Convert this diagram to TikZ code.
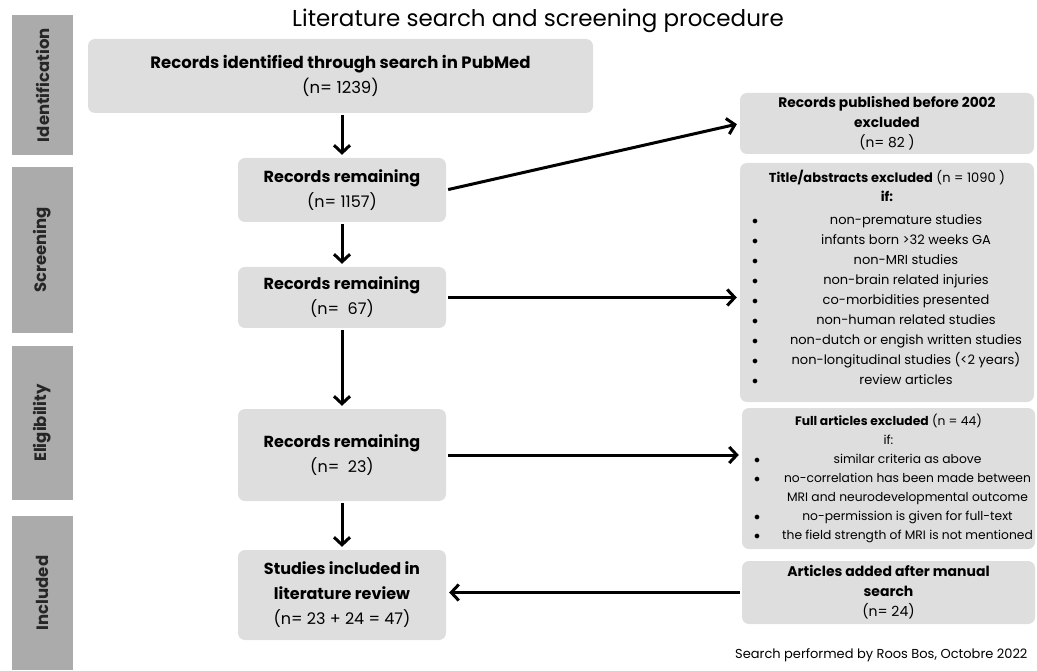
\documentclass[tikz,border=0pt]{standalone}
\usepackage{fontspec}
\setmainfont{Poppins}
\usepackage{array}
\usetikzlibrary{arrows.meta}
\definecolor{boxgray}{RGB}{222,222,222}
\definecolor{phasegray}{RGB}{171,171,171}
\newcommand{\fsz}[2]{\fontsize{#1}{#2}\selectfont}
\newcommand{\bul}{\hspace{12pt}$\bullet$}
\begin{document}
\begin{tikzpicture}[x=1pt,y=-1pt,
  phase/.style={fill=phasegray,rotate=90,minimum height=61pt,inner sep=0pt,
    font=\fsz{16.5}{18}\bfseries,text=black!85},
  box/.style={fill=boxgray,rounded corners=7pt,align=center,inner sep=0pt},
  rec/.style={box,minimum width=208pt,font=\fsz{16}{25}},
  excl/.style={box,minimum width=294pt,font=\fsz{13}{20}},
  arr/.style={line width=3pt,-{Straight Barb[length=7.5pt,width=16pt]},
    shorten <=2pt,shorten >=3pt}]
\useasboundingbox (0,0) rectangle (1037,671);

% Title.
\node[font=\fsz{23}{26}] (title) at (538,21) {Literature search and screening procedure};

% Phase bars on the left.
\node[phase,minimum width=140pt] (ident) at (42.5,85) {Identification};
\node[phase,minimum width=166pt] (screen) at (42.5,250) {Screening};
\node[phase,minimum width=154pt] (elig) at (42.5,423) {Eligibility};
\node[phase,minimum width=154pt] (incl) at (42.5,593) {Included};

% Main column.
\node[rec,font=\fsz{16.5}{25},minimum width=505pt,minimum height=74pt] (pubmed) at (340.5,76)
 {\textbf{Records identified through search in PubMed}\\(n= 1239)};
\node[rec,minimum height=64pt] (rem1) at (342,190) {\textbf{Records remaining}\\(n= 1157)};
\node[rec,minimum height=61pt] (rem2) at (342,297.5) {\textbf{Records remaining}\\(n=\ \ 67)};
\node[rec,minimum height=92pt] (rem3) at (342,455) {\textbf{Records remaining}\\(n=\ \ 23)};
\node[rec,minimum height=90pt] (final) at (342,595)
 {\textbf{Studies included in}\\\textbf{literature review}\\(n= 23 + 24 = 47)};

% Exclusion column.
\node[excl,font=\fsz{13.8}{20},minimum height=61pt] (before) at (887,123.5)
 {\textbf{Records published before 2002}\\\textbf{excluded}\\(n= 82 )};
\node[excl,minimum height=239pt] (tiabs) at (887,282.5)
 {\begin{tabular}{@{}p{38pt}@{}>{\centering\arraybackslash}p{256pt}@{}}
  \multicolumn{2}{@{}c@{}}{\textbf{Title/abstracts excluded} (n = 1090 )}\\
  \multicolumn{2}{@{}c@{}}{\textbf{if:}}\\[3pt]
  \bul & non-premature studies\\
  \bul & infants born >32 weeks GA\\
  \bul & non-MRI studies\\
  \bul & non-brain related injuries\\
  \bul & co-morbidities presented\\
  \bul & non-human related studies\\
  \bul & non-dutch or engish written studies\\
  \bul & non-longitudinal studies (<2 years)\\
  \bul & review articles\\[6pt]
 \end{tabular}};
\node[excl,font=\fsz{12.3}{19},minimum width=293pt,minimum height=141pt] (fullart) at (888.5,478.5)
 {\begin{tabular}{@{}p{38pt}@{}>{\centering\arraybackslash}p{255pt}@{}}
  \multicolumn{2}{@{}c@{}}{\textbf{Full articles excluded} (n = 44)}\\
  \multicolumn{2}{@{}c@{}}{if:}\\
  \bul & similar criteria as above\\
  \bul & no-correlation has been made between\\
       & MRI and neurodevelopmental outcome\\
  \bul & no-permission is given for full-text\\
  \bul & the field strength of MRI is not mentioned\\
 \end{tabular}};
\node[excl,font=\fsz{14}{20},minimum width=293pt,minimum height=63pt] (manual) at (888.5,592.5)
 {\textbf{Articles added after manual}\\\textbf{search}\\(n= 24)};

% Credit line.
\node[anchor=east,font=\fsz{13}{15}] (credit) at (1031,655) {Search performed by Roos Bos, Octobre 2022};

% Arrows.
\draw[arr] (pubmed.south -| rem1) -- (rem1.north);
\draw[arr] (rem1) -- (rem2);
\draw[arr] (rem2) -- (rem3);
\draw[arr] (rem3) -- (final);
\draw[arr] (rem1.east) -- (before.west);
\draw[arr] (rem2.east) -- (rem2.east -| tiabs.west);
\draw[arr] (rem3.east) -- (rem3.east -| fullart.west);
\draw[arr] (manual.west) -- (manual.west -| final.east);
\end{tikzpicture}
\end{document}
